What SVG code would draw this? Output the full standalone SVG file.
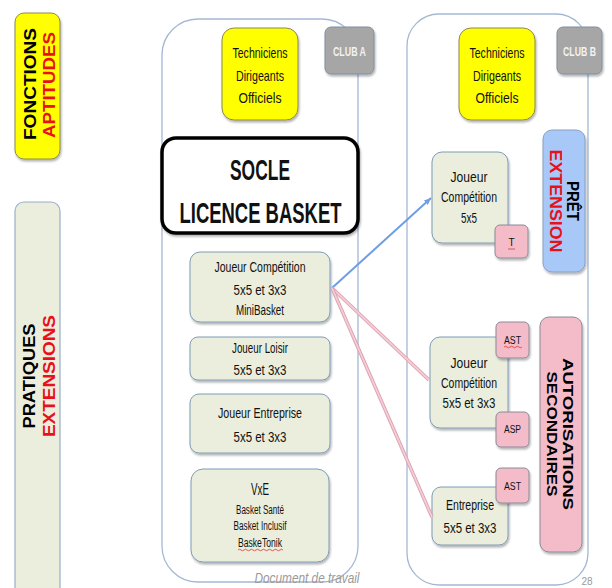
<svg xmlns="http://www.w3.org/2000/svg" width="612" height="588" viewBox="0 0 612 588">
<defs>
<filter id="sh" x="-20%" y="-20%" width="140%" height="140%"><feDropShadow dx="1" dy="2" stdDeviation="1.2" flood-color="#000" flood-opacity="0.3"/></filter>
<marker id="ab" markerWidth="8" markerHeight="8" refX="7" refY="4" orient="auto" markerUnits="userSpaceOnUse"><path d="M0,1 L7,4 L0,7 z" fill="#6f9ee6"/></marker>
<linearGradient id="tl" x1="0" x2="1"><stop offset="0" stop-color="#d6c8e6" stop-opacity="0.2"/><stop offset="0.3" stop-color="#5a3a8a"/><stop offset="0.8" stop-color="#8a3a6a"/><stop offset="1" stop-color="#e8c0d0" stop-opacity="0.2"/></linearGradient>
</defs>
<style>
.t{font-family:"Liberation Sans",Arial,sans-serif;fill:#111;text-anchor:middle}
.n{font-size:14.5px}
.s{font-size:12.5px}
.b{font-weight:bold}
.v{font-family:"Liberation Sans","DejaVu Sans",sans-serif;font-weight:bold;text-anchor:middle}
.cont{fill:#fff;stroke:#a4b8d4;stroke-width:1.3}
.yel{fill:#ffff00;stroke:#8a8a50;stroke-width:1;filter:url(#sh)}
.grn{fill:#ebeedc;stroke:#7f9cb8;stroke-width:1;filter:url(#sh)}
.pnk{fill:#f4bcc8;stroke:#8a8a9a;stroke-width:1;filter:url(#sh)}
.gry{fill:#a6a6a6;stroke:#7f8fa0;stroke-width:1;filter:url(#sh)}
.club{font-family:"Liberation Sans",sans-serif;font-size:12px;font-weight:bold;fill:#f2f2f2;text-anchor:middle}
.red{fill:#e8101a}
.wav{fill:none;stroke:#e03030;stroke-width:0.8}
</style>
<rect width="612" height="588" fill="#fff"/>
<line x1="235" y1="6" x2="382" y2="6" stroke="url(#tl)" stroke-width="1.5"/>

<g id="fonctions">
<rect x="15" y="13" width="45" height="146" rx="9" class="yel"/>
<text class="v" font-size="17" transform="translate(36,84) rotate(-90)" textLength="112" lengthAdjust="spacingAndGlyphs">FONCTIONS</text>
<text class="v red" font-size="17" transform="translate(55,85) rotate(-90)" textLength="106" lengthAdjust="spacingAndGlyphs">APTITUDES</text>
</g>
<g id="pratiques">
<rect x="15" y="202" width="45" height="400" rx="9" fill="#ebeedc" stroke="#9aafc8" stroke-width="1.2"/>
<text class="v" font-size="17" transform="translate(35,376) rotate(-90)" textLength="105" lengthAdjust="spacingAndGlyphs">PRATIQUES</text>
<text class="v red" font-size="17" transform="translate(55,376) rotate(-90)" textLength="122" lengthAdjust="spacingAndGlyphs">EXTENSIONS</text>
</g>

<g id="clubA">
<rect x="162" y="19" width="196" height="563" rx="36" class="cont"/>
</g>
<g id="clubB">
<rect x="407" y="14" width="181" height="571" rx="32" class="cont"/>
</g>

<g id="clubA-label">
<rect x="325" y="27" width="49" height="47" rx="6" class="gry"/>
<text class="club" x="349.5" y="56" textLength="33" lengthAdjust="spacingAndGlyphs">CLUB A</text>
</g>
<g id="tdoA">
<rect x="222" y="28" width="76" height="92" rx="12" class="yel"/>
<text class="t n" x="260" y="58" textLength="55" lengthAdjust="spacingAndGlyphs">Techniciens</text>
<text class="t n" x="260" y="81" textLength="48" lengthAdjust="spacingAndGlyphs">Dirigeants</text>
<text class="t n" x="260" y="103" textLength="43" lengthAdjust="spacingAndGlyphs">Officiels</text>
</g>
<g id="socle">
<rect x="162" y="138" width="196" height="95" rx="14" fill="#fff" stroke="#000" stroke-width="3.5" filter="url(#sh)"/>
<text class="t b" font-size="30" x="260" y="180" textLength="60" lengthAdjust="spacingAndGlyphs">SOCLE</text>
<text class="t b" font-size="30" x="260.5" y="223" textLength="162" lengthAdjust="spacingAndGlyphs">LICENCE BASKET</text>
</g>
<g id="jcA">
<rect x="190" y="252" width="140" height="70" rx="10" class="grn"/>
<text class="t n" x="260" y="272" textLength="91" lengthAdjust="spacingAndGlyphs">Joueur Compétition</text>
<text class="t n" x="260" y="295" textLength="53" lengthAdjust="spacingAndGlyphs">5x5 et 3x3</text>
<text class="t n" x="260" y="315" textLength="48" lengthAdjust="spacingAndGlyphs">MiniBasket</text>
</g>
<g id="loisir">
<rect x="190" y="337" width="140" height="43" rx="8" class="grn"/>
<text class="t n" x="260" y="353" textLength="56" lengthAdjust="spacingAndGlyphs">Joueur Loisir</text>
<text class="t n" x="260" y="375" textLength="53" lengthAdjust="spacingAndGlyphs">5x5 et 3x3</text>
</g>
<g id="entrepriseA">
<rect x="190" y="394" width="140" height="59" rx="9" class="grn"/>
<text class="t n" x="260" y="418" textLength="84" lengthAdjust="spacingAndGlyphs">Joueur Entreprise</text>
<text class="t n" x="260" y="442" textLength="53" lengthAdjust="spacingAndGlyphs">5x5 et 3x3</text>
</g>
<g id="vxe">
<rect x="191" y="469" width="138" height="93" rx="12" class="grn"/>
<text class="t" font-size="17" x="260" y="495" textLength="18" lengthAdjust="spacingAndGlyphs">VxE</text>
<text class="t s" x="260" y="514" textLength="48" lengthAdjust="spacingAndGlyphs">Basket Santé</text>
<text class="t s" x="260" y="530" textLength="53" lengthAdjust="spacingAndGlyphs">Basket Inclusif</text>
<text class="t s" x="260" y="547" textLength="44" lengthAdjust="spacingAndGlyphs">BaskeTonik</text>
<path class="wav" d="M238,550 q1.5,-1.5 3,0 t3,0 t3,0 t3,0 t3,0 t3,0 t3,0 t3,0 t3,0 t3,0 t3,0 t3,0 t3,0 t3,0 t3,0"/>
</g>

<g id="clubB-label">
<rect x="557" y="27" width="45" height="47" rx="6" class="gry"/>
<text class="club" x="579.5" y="56" textLength="33" lengthAdjust="spacingAndGlyphs">CLUB B</text>
</g>
<g id="tdoB">
<rect x="459" y="28" width="76" height="92" rx="12" class="yel"/>
<text class="t n" x="497" y="58" textLength="55" lengthAdjust="spacingAndGlyphs">Techniciens</text>
<text class="t n" x="497" y="81" textLength="48" lengthAdjust="spacingAndGlyphs">Dirigeants</text>
<text class="t n" x="497" y="103" textLength="43" lengthAdjust="spacingAndGlyphs">Officiels</text>
</g>
<g id="jcB">
<rect x="432" y="152" width="76" height="91" rx="10" class="grn"/>
<text class="t n" x="469" y="182" textLength="37" lengthAdjust="spacingAndGlyphs">Joueur</text>
<text class="t n" x="469" y="202" textLength="56" lengthAdjust="spacingAndGlyphs">Compétition</text>
<text class="t n" x="469" y="223" textLength="16" lengthAdjust="spacingAndGlyphs">5x5</text>
</g>
<g id="t-box">
<rect x="495" y="225" width="33" height="33" rx="5" class="pnk"/>
<text class="t" font-size="10" x="511.5" y="246">T</text>
<line x1="508" y1="249" x2="515" y2="249" stroke="#d04040" stroke-width="0.8"/>
</g>
<g id="pret">
<rect x="543" y="130" width="42" height="142" rx="9" fill="#a8c8f8" stroke="#8aa0c0" stroke-width="1" filter="url(#sh)"/>
<text class="v" font-size="16" transform="translate(567,201) rotate(90)" textLength="40" lengthAdjust="spacingAndGlyphs">PRÊT</text>
<text class="v red" font-size="16" transform="translate(550,201) rotate(90)" textLength="103" lengthAdjust="spacingAndGlyphs">EXTENSION</text>
</g>
<g id="jcB2">
<rect x="430" y="337" width="78" height="91" rx="10" class="grn"/>
<text class="t n" x="469" y="368" textLength="37" lengthAdjust="spacingAndGlyphs">Joueur</text>
<text class="t n" x="469" y="388" textLength="56" lengthAdjust="spacingAndGlyphs">Compétition</text>
<text class="t n" x="469" y="408" textLength="53" lengthAdjust="spacingAndGlyphs">5x5 et 3x3</text>
</g>
<g id="ast1">
<rect x="496" y="322" width="33" height="36" rx="5" class="pnk"/>
<text class="t" font-size="10" x="512.5" y="344" textLength="17" lengthAdjust="spacingAndGlyphs">AST</text>
<path class="wav" d="M504,347 q1.5,-1.5 3,0 t3,0 t3,0 t3,0 t3,0 t3,0"/>
</g>
<g id="asp">
<rect x="496" y="412" width="33" height="35" rx="5" class="pnk"/>
<text class="t" font-size="10" x="512.5" y="433" textLength="17" lengthAdjust="spacingAndGlyphs">ASP</text>
</g>
<g id="entrepriseB">
<rect x="432" y="487" width="76" height="58" rx="9" class="grn"/>
<text class="t n" x="470" y="510" textLength="48" lengthAdjust="spacingAndGlyphs">Entreprise</text>
<text class="t n" x="470" y="533" textLength="53" lengthAdjust="spacingAndGlyphs">5x5 et 3x3</text>
</g>
<g id="ast2">
<rect x="496" y="468" width="33" height="35" rx="5" class="pnk"/>
<text class="t" font-size="10" x="512.5" y="490" textLength="17" lengthAdjust="spacingAndGlyphs">AST</text>
</g>
<g id="autorisations">
<rect x="540" y="317" width="42" height="235" rx="9" class="pnk"/>
<text class="v" font-size="15" transform="translate(563,434) rotate(90)" textLength="152" lengthAdjust="spacingAndGlyphs">AUTORISATIONS</text>
<text class="v" font-size="15" transform="translate(547,434) rotate(90)" textLength="125" lengthAdjust="spacingAndGlyphs">SECONDAIRES</text>
</g>

<g id="connectors">
<line x1="332" y1="288" x2="431" y2="198" stroke="#6f9ee6" stroke-width="2" marker-end="url(#ab)"/>
<line x1="332" y1="288" x2="429" y2="380" stroke="#d8a0ae" stroke-width="3.5"/>
<line x1="332" y1="288" x2="429" y2="380" stroke="#f6ccd6" stroke-width="1.8"/>
<line x1="332" y1="288" x2="432" y2="517" stroke="#d8a0ae" stroke-width="3.5"/>
<line x1="332" y1="288" x2="432" y2="517" stroke="#f6ccd6" stroke-width="1.8"/>
</g>

<text x="307" y="583" font-family="Liberation Sans,Arial,sans-serif" font-style="italic" font-size="14" fill="#9a9a9a" text-anchor="middle" textLength="105" lengthAdjust="spacingAndGlyphs">Document de travail</text>
<text x="587" y="585" font-family="Liberation Sans,sans-serif" font-size="10" fill="#9a9a9a" text-anchor="middle">28</text>
</svg>
